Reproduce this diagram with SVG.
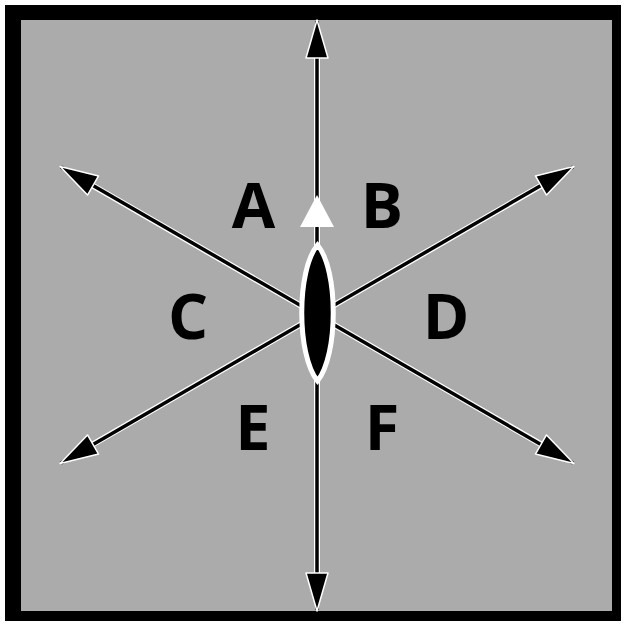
<svg xmlns="http://www.w3.org/2000/svg" width="626" height="626" viewBox="0 0 626 626">
<style>
.halo{stroke:#fff;stroke-width:6;fill:none}
.ln{stroke:#000;stroke-width:3.5;fill:none;marker-end:url(#ah)}
.lbl{font-family:"Open Sans","Liberation Sans",sans-serif;font-weight:bold;font-size:63px;fill:#000;text-anchor:middle}
</style>
<defs>
<marker id="ah" markerUnits="userSpaceOnUse" viewBox="-2 -2 42 26" refX="37" refY="11" markerWidth="42" markerHeight="26" orient="auto">
<path d="M0,0 L38,11 L0,22 Z" fill="#000" stroke="#fff" stroke-width="1.5" stroke-linejoin="round"/>
</marker>
</defs>
<rect x="0" y="0" width="626" height="626" fill="#fff"/>
<rect x="5" y="5" width="616" height="616" fill="#000"/>
<rect x="21" y="20" width="591" height="591" fill="#ababab"/>
<g id="connectors">
<line class="halo" x1="317" y1="315" x2="317" y2="45"/>
<line class="halo" x1="317" y1="315" x2="317" y2="586"/>
<line class="halo" x1="317" y1="315" x2="83" y2="180"/>
<line class="halo" x1="317" y1="315" x2="551" y2="180"/>
<line class="halo" x1="317" y1="315" x2="83" y2="450"/>
<line class="halo" x1="317" y1="315" x2="551" y2="450"/>
<line class="ln" x1="317" y1="315" x2="317" y2="21"/>
<line class="ln" x1="317" y1="315" x2="317" y2="610"/>
<line class="ln" x1="317" y1="315" x2="61" y2="167"/>
<line class="ln" x1="317" y1="315" x2="573" y2="167"/>
<line class="ln" x1="317" y1="315" x2="61" y2="463"/>
<line class="ln" x1="317" y1="315" x2="573" y2="463"/>
</g>
<g id="lens">
<path d="M317.5,245 C338.5,270 338.5,355 317.5,381 C296.5,355 296.5,270 317.5,245 Z" fill="#000" stroke="#fff" stroke-width="5"/>
</g>
<g id="triangle">
<polygon points="317,195 334,227 300,227" fill="#fff"/>
</g>
<g id="A"><text class="lbl" x="253.5" y="228">A</text></g>
<g id="B"><text class="lbl" x="382" y="228">B</text></g>
<g id="C"><text class="lbl" x="188" y="339">C</text></g>
<g id="D"><text class="lbl" x="446" y="339">D</text></g>
<g id="E"><text class="lbl" x="253" y="450">E</text></g>
<g id="F"><text class="lbl" x="382" y="450">F</text></g>
</svg>
